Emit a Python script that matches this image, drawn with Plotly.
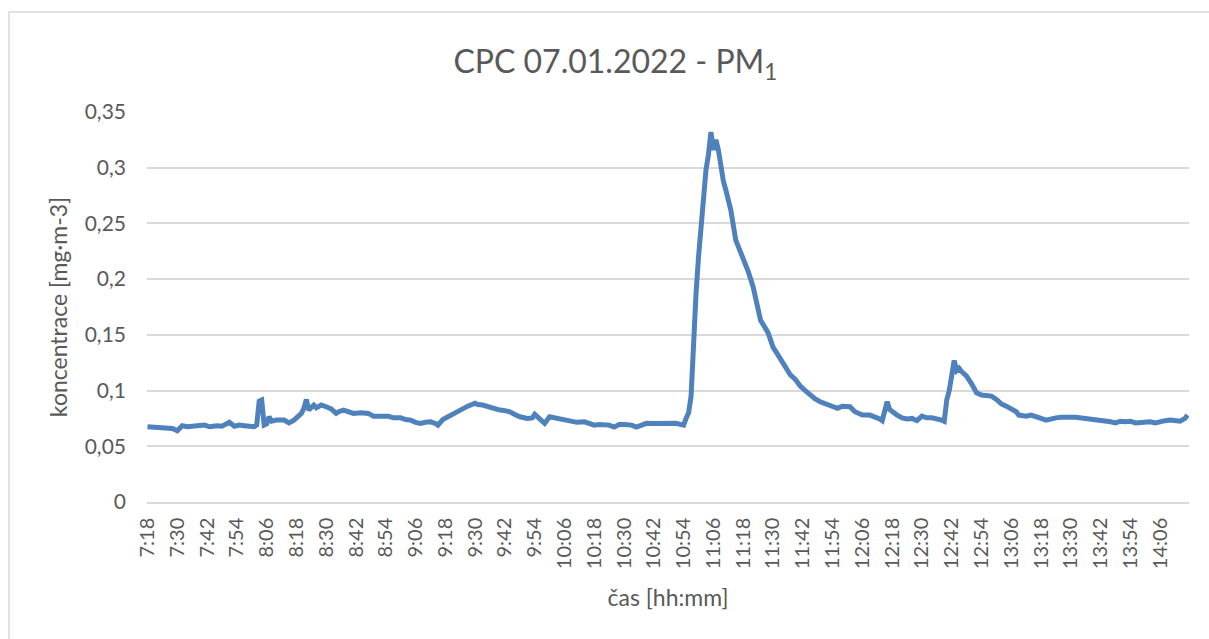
import plotly.graph_objects as go

# ---- data ----
times = [
    "7:18", "7:21", "7:23", "7:26", "7:28", "7:30", "7:32", "7:34", "7:36", "7:39",
    "7:41", "7:43", "7:46", "7:48", "7:51", "7:53", "7:55", "7:57", "7:59", "8:01",
    "8:02", "8:03", "8:04", "8:05", "8:06", "8:07", "8:08", "8:10", "8:13", "8:15",
    "8:17", "8:19", "8:20", "8:21", "8:22", "8:23", "8:25", "8:26", "8:28", "8:30",
    "8:32", "8:34", "8:35", "8:37", "8:39", "8:41", "8:44", "8:47", "8:49", "8:52",
    "8:55", "8:57", "9:00", "9:02", "9:04", "9:06", "9:08", "9:10", "9:12", "9:14",
    "9:15", "9:17", "9:19", "9:21", "9:22", "9:24", "9:25", "9:27", "9:30", "9:31",
    "9:33", "9:35", "9:37", "9:40", "9:42", "9:44", "9:46", "9:48", "9:51", "9:53",
    "9:54", "9:56", "9:58", "10:00", "10:02", "10:04", "10:06", "10:08", "10:11", "10:14",
    "10:16", "10:18", "10:20", "10:22", "10:24", "10:26", "10:28", "10:30", "10:33", "10:35",
    "10:37", "10:39", "10:42", "10:45", "10:48", "10:51", "10:53", "10:54", "10:55", "10:56",
    "10:57", "10:58", "10:59", "11:00", "11:01", "11:02", "11:03", "11:04", "11:05", "11:06",
    "11:07", "11:08", "11:09", "11:10", "11:11", "11:13", "11:15", "11:17", "11:18", "11:20",
    "11:22", "11:24", "11:25", "11:28", "11:30", "11:32", "11:34", "11:37", "11:39", "11:41",
    "11:43", "11:45", "11:47", "11:49", "11:52", "11:54", "11:56", "11:58", "12:00", "12:01",
    "12:03", "12:06", "12:09", "12:11", "12:13", "12:14", "12:16", "12:17", "12:18", "12:20",
    "12:22", "12:24", "12:26", "12:28", "12:30", "12:32", "12:34", "12:36", "12:38", "12:39",
    "12:40", "12:41", "12:42", "12:43", "12:44", "12:45", "12:46", "12:48", "12:50", "12:52",
    "12:54", "12:56", "12:58", "13:00", "13:02", "13:04", "13:06", "13:08", "13:09", "13:12",
    "13:14", "13:16", "13:18", "13:20", "13:22", "13:24", "13:26", "13:28", "13:30", "13:32",
    "13:34", "13:36", "13:38", "13:40", "13:42", "13:44", "13:46", "13:48", "13:50", "13:52",
    "13:54", "13:56", "13:58", "14:00", "14:02", "14:04", "14:06", "14:08", "14:10", "14:12",
    "14:14", "14:16", "14:17",
]
pm1 = [
    0.0676, 0.0668, 0.0670, 0.0665, 0.0660, 0.0640, 0.0685, 0.0675, 0.0680, 0.0685,
    0.0690, 0.0675, 0.0685, 0.0680, 0.0715, 0.0680, 0.0690, 0.0685, 0.0680, 0.0676,
    0.0690, 0.0905, 0.0915, 0.0690, 0.0700, 0.0765, 0.0725, 0.0735, 0.0735, 0.0710,
    0.0735, 0.0775, 0.0795, 0.0840, 0.0920, 0.0825, 0.0870, 0.0845, 0.0870, 0.0855,
    0.0835, 0.0795, 0.0810, 0.0825, 0.0805, 0.0795, 0.0800, 0.0795, 0.0770, 0.0775,
    0.0770, 0.0755, 0.0755, 0.0740, 0.0735, 0.0715, 0.0706, 0.0715, 0.0720, 0.0705,
    0.0690, 0.0740, 0.0765, 0.0780, 0.0795, 0.0820, 0.0840, 0.0860, 0.0886, 0.0875,
    0.0870, 0.0855, 0.0840, 0.0825, 0.0820, 0.0810, 0.0785, 0.0765, 0.0750, 0.0755,
    0.0787, 0.0740, 0.0706, 0.0765, 0.0755, 0.0750, 0.0735, 0.0720, 0.0715, 0.0720,
    0.0705, 0.0690, 0.0695, 0.0695, 0.0690, 0.0672, 0.0695, 0.0695, 0.0690, 0.0672,
    0.0695, 0.0706, 0.0705, 0.0706, 0.0710, 0.0706, 0.0695, 0.0690, 0.0751, 0.0800,
    0.0950, 0.1500, 0.1875, 0.2200, 0.2500, 0.2750, 0.2980, 0.3120, 0.3320, 0.3160,
    0.3250, 0.3160, 0.2980, 0.2880, 0.2800, 0.2620, 0.2350, 0.2240, 0.2180, 0.2070,
    0.1930, 0.1720, 0.1630, 0.1520, 0.1390, 0.1320, 0.1250, 0.1140, 0.1100, 0.1040,
    0.1000, 0.0960, 0.0925, 0.0900, 0.0870, 0.0855, 0.0840, 0.0860, 0.0850, 0.0855,
    0.0810, 0.0780, 0.0780, 0.0765, 0.0745, 0.0730, 0.0900, 0.0830, 0.0810, 0.0780,
    0.0755, 0.0745, 0.0750, 0.0730, 0.0770, 0.0755, 0.0755, 0.0750, 0.0735, 0.0725,
    0.0915, 0.1000, 0.1180, 0.1270, 0.1180, 0.1200, 0.1170, 0.1130, 0.1060, 0.0980,
    0.0960, 0.0955, 0.0950, 0.0920, 0.0880, 0.0860, 0.0830, 0.0810, 0.0780, 0.0770,
    0.0780, 0.0770, 0.0750, 0.0735, 0.0750, 0.0755, 0.0760, 0.0755, 0.0760, 0.0760,
    0.0755, 0.0750, 0.0740, 0.0735, 0.0740, 0.0735, 0.0720, 0.0710, 0.0725, 0.0720,
    0.0725, 0.0710, 0.0715, 0.0715, 0.0720, 0.0710, 0.0725, 0.0730, 0.0735, 0.0725,
    0.0725, 0.0750, 0.0780,
]
tick_labels = [
    "7:18", "7:30", "7:42", "7:54", "8:06", "8:18", "8:30", "8:42", "8:54", "9:06",
    "9:18", "9:30", "9:42", "9:54", "10:06", "10:18", "10:30", "10:42", "10:54", "11:06",
    "11:18", "11:30", "11:42", "11:54", "12:06", "12:18", "12:30", "12:42", "12:54", "13:06",
    "13:18", "13:30", "13:42", "13:54", "14:06",
]
y_ticks = [0, 0.05, 0.1, 0.15, 0.2, 0.25, 0.3, 0.35]
y_tick_labels = ["0", "0,05", "0,1", "0,15", "0,2", "0,25", "0,3", "0,35"]


def to_min(s):
    h, m = s.split(":")
    return int(h) * 60 + int(m)


x_vals = [to_min(t) for t in times]
tick_vals = [to_min(t) for t in tick_labels]

FONT = "Lato, 'Open Sans', sans-serif"
TXT = "#595959"
GRID = "#d9d9d9"

fig = go.Figure()
fig.add_trace(go.Scatter(
    x=x_vals, y=pm1, mode="lines",
    line=dict(color="#4f81bd", width=5, shape="linear"),
    showlegend=False, hoverinfo="skip",
))

fig.update_layout(
    width=1209, height=639,
    margin=dict(l=147, r=20, t=112, b=137),
    paper_bgcolor="white", plot_bgcolor="white",
    font=dict(family=FONT, color=TXT),
    title=dict(
        text="CPC 07.01.2022 - PM<sub>1</sub>",
        x=0.509, xref="container", xanchor="center",
        y=1 - 62 / 639, yref="container", yanchor="middle",
        font=dict(family=FONT, size=32, color=TXT),
    ),
    xaxis=dict(
        range=[437.8, 857.6],
        tickmode="array", tickvals=tick_vals, ticktext=tick_labels,
        tickangle=-90, showgrid=False, zeroline=False,
        showline=True, linecolor=GRID, linewidth=1.5,
        ticks="", ticklabelstandoff=6,
        tickfont=dict(family=FONT, size=20, color=TXT),
        title=dict(text="čas [hh:mm]", standoff=22,
                   font=dict(family=FONT, size=23, color=TXT)),
    ),
    yaxis=dict(
        range=[0, 0.35],
        tickmode="array", tickvals=y_ticks, ticktext=y_tick_labels,
        showgrid=True, gridcolor=GRID, gridwidth=1.5,
        zeroline=False, showline=False, ticks="",
        ticklabelstandoff=20,
        tickfont=dict(family=FONT, size=21, color=TXT),
        title=dict(text="koncentrace [mg·m-3]", standoff=10,
                   font=dict(family=FONT, size=23, color=TXT)),
    ),
    shapes=[dict(
        type="rect", xref="paper", yref="paper",
        x0=(9 - 147) / 1042, x1=1.3, y0=-0.6, y1=(502 - 12) / 390,
        line=dict(color=GRID, width=1.5), fillcolor="rgba(0,0,0,0)", layer="below",
    )],
)

fig.write_html(
    "out.html",
    config={"displayModeBar": False},
    post_script="document.body.style.margin='0';document.body.style.overflow='hidden';",
)
